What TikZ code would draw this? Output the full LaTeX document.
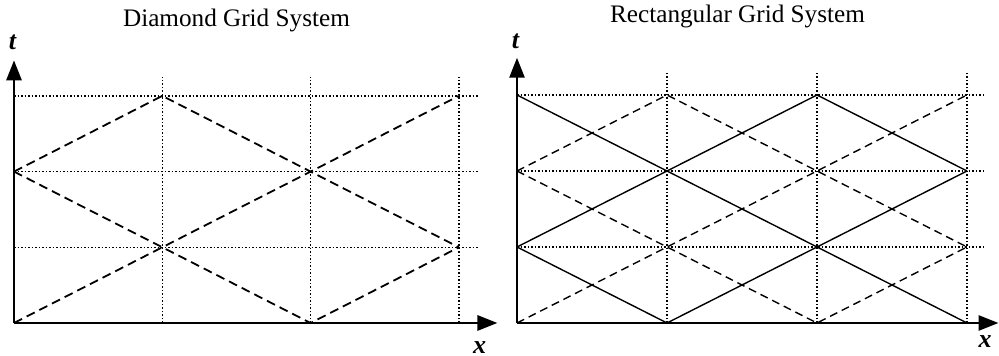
\documentclass[tikz,border=0pt]{standalone}
\usepackage{fontspec}
\setmainfont{Liberation Serif}
\usetikzlibrary{arrows.meta}

\begin{document}
\begin{tikzpicture}[line join=round,
  gridline/.style={line width=0.75pt,dash pattern=on 0.75pt off 1pt},
  axisline/.style={line width=1.4pt,-{Triangle[length=10pt,width=7.5pt]}},
  dashline/.style={line width=0.9pt,dash pattern=on 4.5pt off 2.6pt},
  thindash/.style={line width=0.7pt,dash pattern=on 4pt off 2.5pt},
  fullline/.style={line width=0.7pt},
  axislabel/.style={font=\fontsize{13}{15}\selectfont\bfseries\itshape},
  paneltitle/.style={font=\fontsize{12.6}{15}\selectfont}]
  \useasboundingbox (0,0) rectangle (499.5pt,178pt);
  % diamond grid
  \begin{scope}[shift={(7pt,16.5pt)},x=74.15pt,y=37.85pt]
    \coordinate (dO) at (0,0);
    \draw[gridline] (1,0)--(1,3.25);
    \draw[gridline] (2,0)--(2,3.25);
    \draw[gridline] (3,0)--(3,3.25);
    \draw[gridline] (0,1)--(3.13,1);
    \draw[gridline] (0,2)--(3.13,2);
    \draw[gridline] (0,3)--(3.13,3);
    \draw[dashline] (0,0)--(3,3);
    \draw[dashline] (0,2)--(1,3)--(3,1);
    \draw[dashline] (0,2)--(2,0)--(3,1);
    \draw[axisline] (dO)--(0,3.47);
    \draw[axisline] (dO)--(3.26,0);
    \node[axislabel] (dt) at (-0.01,3.71) {t};
    \node[axislabel] (dx) at (3.14,-0.32) {x};
    \node[paneltitle] (dtitle) at (1.5,4.0) {Diamond Grid System};
  \end{scope}
  % rectangular grid
  \begin{scope}[shift={(258.5pt,16.5pt)},x=75pt,y=38pt]
    \coordinate (rO) at (0,0);
    \draw[gridline] (1,0)--(1,3.3);
    \draw[gridline] (2,0)--(2,3.3);
    \draw[gridline] (3,0)--(3,3.3);
    \draw[gridline] (0,1)--(3.12,1);
    \draw[gridline] (0,2)--(3.12,2);
    \draw[gridline] (0,3)--(3.12,3);
    \draw[thindash] (0,0)--(3,3);
    \draw[thindash] (0,2)--(1,3)--(3,1);
    \draw[thindash] (0,2)--(2,0)--(3,1);
    \draw[fullline] (0,3)--(3,0);
    \draw[fullline] (0,1)--(1,0)--(3,2);
    \draw[fullline] (0,1)--(2,3)--(3,2);
    \draw[axisline] (rO)--(0,3.49);
    \draw[axisline] (rO)--(3.21,0);
    \node[axislabel] (rt) at (-0.01,3.7) {t};
    \node[axislabel] (rx) at (3.12,-0.25) {x};
    \node[paneltitle] (rtitle) at (1.47,4.03) {Rectangular Grid System};
  \end{scope}
\end{tikzpicture}
\end{document}
